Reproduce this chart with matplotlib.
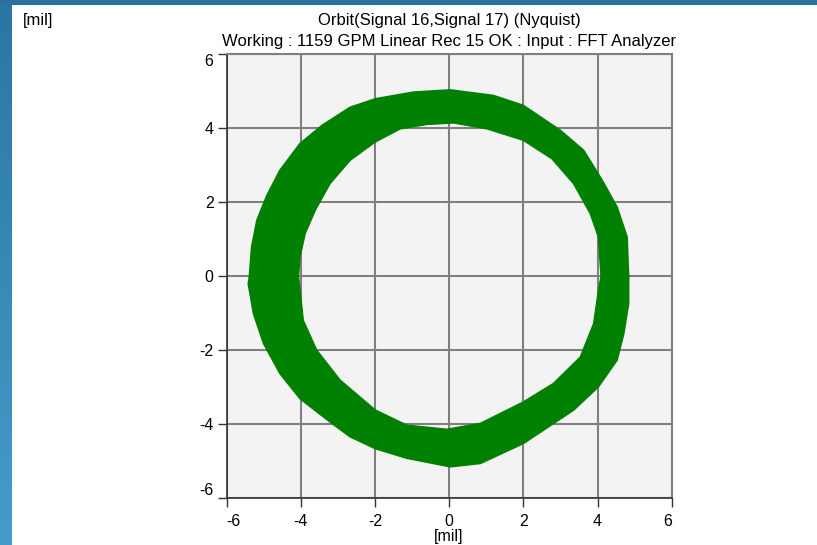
# Orbit plot (Nyquist) - ring of shaft orbits

import numpy as np
import matplotlib
matplotlib.use('Agg')
import matplotlib.pyplot as plt

plt.rcParams['font.family'] = ['Liberation Sans', 'DejaVu Sans']
plt.rcParams['axes.unicode_minus'] = False

# Outer envelope of the orbit ring [mil], counter-clockwise from +x
outer_x = [4.83, 4.79, 4.52, 4.12, 3.62, 2.99, 2.00, 1.19, 0.03, -0.96, -1.99, -2.67,
           -3.43, -4.02, -4.56, -4.91, -5.18, -5.32, -5.38, -5.41, -5.27, -5.00, -4.56,
           -4.02, -3.21, -2.67, -1.99, -1.14, 0.03, 0.84, 2.00, 2.81, 3.35, 4.02, 4.52,
           4.70, 4.83, 4.83]
outer_y = [0.00, 1.06, 1.87, 2.59, 3.40, 3.94, 4.61, 4.88, 5.03, 4.97, 4.79, 4.56,
           4.07, 3.58, 2.86, 2.18, 1.51, 0.79, 0.00, -0.20, -1.01, -1.81, -2.62,
           -3.30, -3.93, -4.33, -4.65, -4.91, -5.14, -5.05, -4.51, -3.97, -3.61, -2.98, -2.26,
           -1.55, -0.74, 0.00]

# Inner envelope of the orbit ring [mil]
inner_x = [4.09, 4.02, 3.80, 3.35, 2.77, 2.00, 1.02, 0.12, -0.60, -1.32, -2.00, -2.67,
           -3.21, -3.61, -3.88, -4.02, -4.06, -3.93, -3.57, -2.94, -1.99, -1.14, -0.06,
           0.84, 2.00, 2.81, 3.53, 3.89, 4.02, 4.09]
inner_y = [0.00, 1.06, 1.69, 2.50, 3.17, 3.67, 3.98, 4.14, 4.10, 3.98, 3.62, 3.13,
           2.50, 1.78, 1.15, 0.52, 0.00, -1.19, -1.99, -2.80, -3.61, -4.02, -4.13,
           -3.97, -3.39, -2.89, -2.18, -1.28, -0.38, 0.00]

ticks = [-6, -4, -2, 0, 2, 4, 6]
tick_labels = ['-6', '-4', '-2', '0', '2', '4', '6']

title1 = 'Orbit(Signal 16,Signal 17) (Nyquist)'
title2 = 'Working : 1159 GPM Linear Rec 15 OK : Input : FFT Analyzer'
unit = '[mil]'

green = '#008000'
W, H = 817, 545

fig = plt.figure(figsize=(W/100, H/100), dpi=100)
fig.patch.set_facecolor('white')

# Blue frame on the left and top
left = fig.add_axes([0, 0, 12/W, 1])
grad = np.linspace(0, 1, 100).reshape(-1, 1)
cmap = matplotlib.colors.LinearSegmentedColormap.from_list('frame', ['#2a76a3', '#459ccb'])
left.imshow(grad, aspect='auto', cmap=cmap, extent=[0, 1, 0, 1], origin='upper')
left.axis('off')
top = fig.add_axes([0, 1 - 5/H, 1, 5/H])
top.set_facecolor('#2972a0')
top.set_xticks([]); top.set_yticks([])
for s in top.spines.values():
    s.set_visible(False)

ax = fig.add_axes([226.7/W, 46.7/H, 445/W, 444/H])
ax.set_facecolor('#f3f3f3')

# ring: outer path then inner path reversed
ring_x = list(outer_x) + list(inner_x[::-1])
ring_y = list(outer_y) + list(inner_y[::-1])
ax.fill(ring_x, ring_y, color=green, lw=0, zorder=3)
ax.plot(outer_x, outer_y, color=green, lw=1.6, zorder=3)
ax.plot(inner_x, inner_y, color=green, lw=0.8, zorder=3)

ax.set_xlim(-6, 6)
ax.set_ylim(-6, 6)
ax.set_xticks(ticks)
ax.set_yticks(ticks)
ax.set_xticklabels(tick_labels)
ax.set_yticklabels(tick_labels)
ax.grid(True, color='#808080', lw=1.5, zorder=1)
ax.set_axisbelow(True)
ax.tick_params(direction='out', length=6.5, width=1, color='#333333',
               labelsize=11.5, labelcolor='black')
ax.tick_params(axis='x', pad=5)
ax.tick_params(axis='y', pad=3)
# end labels are kept inside the axis span
xl = ax.get_xticklabels()
xl[0].set_ha('left'); xl[-1].set_ha('right')
yl = ax.get_yticklabels()
yl[0].set_va('bottom'); yl[-1].set_va('top')

for s in ['top', 'right']:
    ax.spines[s].set_color('#808080')
    ax.spines[s].set_linewidth(1.5)
for s in ['left', 'bottom']:
    ax.spines[s].set_color('#333333')
    ax.spines[s].set_linewidth(1.2)

fig.text(449/W, 1 - 25/H, title1, ha='center', va='baseline', fontsize=12)
fig.text(449/W, 1 - 46/H, title2, ha='center', va='baseline', fontsize=12)
fig.text(23/W, 1 - 25/H, unit, ha='left', va='baseline', fontsize=12)
fig.text(449/W, 1 - 541/H, unit, ha='center', va='baseline', fontsize=11.5)

fig.savefig('out.png', dpi=100)
